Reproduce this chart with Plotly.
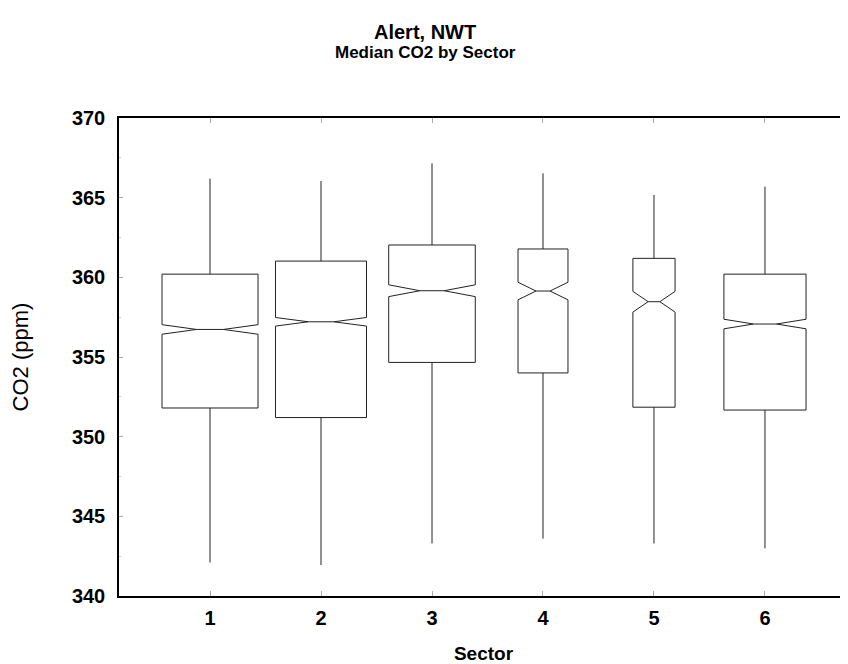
import plotly.graph_objects as go

sectors = [1, 2, 3, 4, 5, 6]
q1 = [351.8, 351.2, 354.66, 354.0, 351.85, 351.67]
median = [356.73, 357.21, 359.16, 359.14, 358.47, 357.07]
q3 = [360.2, 361.02, 362.03, 361.78, 361.19, 360.2]
lower_whisker = [342.1, 341.94, 343.3, 343.6, 343.3, 342.99]
upper_whisker = [366.2, 366.05, 367.15, 366.53, 365.17, 365.69]
notch_span = [0.3, 0.27, 0.37, 0.55, 0.65, 0.3]
y_ticks = [340, 345, 350, 355, 360, 365, 370]

box_widths = [0.865, 0.82, 0.78, 0.45, 0.38, 0.74]

FONT = "Liberation Sans"

fig = go.Figure()
for i, s in enumerate(sectors):
    fig.add_trace(go.Box(
        x=[s],
        q1=[q1[i]], median=[median[i]], q3=[q3[i]],
        lowerfence=[lower_whisker[i]], upperfence=[upper_whisker[i]],
        notchspan=[notch_span[i]],
        notched=True, notchwidth=0.36,
        width=box_widths[i],
        whiskerwidth=0,
        boxpoints=False,
        line=dict(color="#222222", width=1),
        fillcolor="rgba(255,255,255,0)",
        showlegend=False,
        hoverinfo="skip",
    ))

fig.update_layout(
    width=840, height=656,
    margin=dict(l=111, r=0, t=110, b=68),
    paper_bgcolor="white", plot_bgcolor="white",
    font=dict(family=FONT, color="black"),
    annotations=[
        dict(text="<b>Alert, NWT</b>", xref="paper", yref="paper",
             x=0.42, y=1.18, xanchor="center", yanchor="middle",
             showarrow=False, font=dict(size=20, family=FONT)),
        dict(text="<b>Median CO2 by Sector</b>", xref="paper", yref="paper",
             x=0.42, y=1.138, xanchor="center", yanchor="middle",
             showarrow=False, font=dict(size=17, family=FONT)),
    ],
    xaxis=dict(
        range=[0.18, 6.748],
        tickmode="array", tickvals=sectors, ticktext=[f"<b>{s}</b>" for s in sectors],
        ticks="inside", ticklen=5, tickcolor="#aaaaaa", tickwidth=1,
        showline=True, linecolor="black", linewidth=2, mirror="ticks",
        showgrid=False, zeroline=False,
        tickfont=dict(size=20, family=FONT),
        ticklabelstandoff=3,
        title=dict(text="<b>Sector</b>", font=dict(size=19, family=FONT), standoff=21),
    ),
    yaxis=dict(
        range=[340, 370],
        tickmode="array", tickvals=y_ticks, ticktext=[f"<b>{v}</b>" for v in y_ticks],
        ticks="inside", ticklen=4, tickcolor="#aaaaaa", tickwidth=1,
        minor=dict(ticks="inside", ticklen=2, dtick=2.5, tickcolor="#cccccc"),
        showline=True, linecolor="black", linewidth=1.5,
        showgrid=False, zeroline=False,
        tickfont=dict(size=20, family=FONT),
        ticklabelstandoff=8,
        title=dict(text="CO2 (ppm)", font=dict(size=22, family=FONT), standoff=40),
    ),
)

fig.write_html("out.html")
